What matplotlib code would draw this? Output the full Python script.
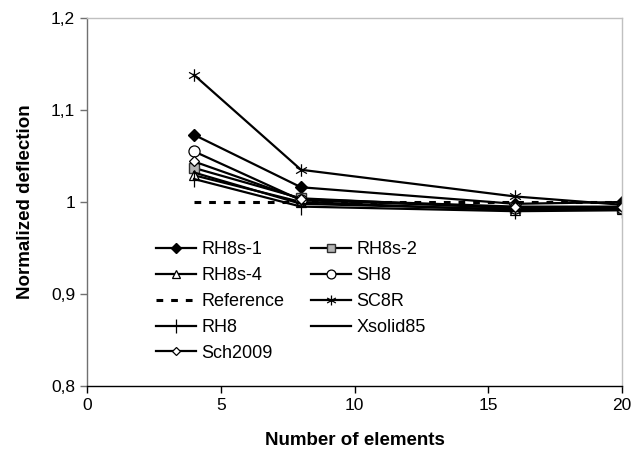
import matplotlib
matplotlib.use('Agg')
import matplotlib.pyplot as plt
from matplotlib.path import Path

plt.rcParams['font.family'] = ['Liberation Sans', 'DejaVu Sans']

# data
elements = [4, 8, 16, 20]
rh8s_1 = [1.073, 1.016, 0.998, 1.000]
rh8s_2 = [1.037, 1.004, 0.993, 0.993]
rh8s_4 = [1.029, 1.000, 0.991, 0.992]
sh8 = [1.055, 1.002, 0.994, 0.994]
reference = [1.0, 1.0, 1.0, 1.0]
sc8r = [1.138, 1.035, 1.006, 0.997]
rh8 = [1.025, 0.995, 0.990, 0.991]
xsolid85 = [1.032, 0.998, 0.992, 0.992]
sch2009 = [1.044, 1.003, 0.995, 0.995]

y_ticks = [0.8, 0.9, 1.0, 1.1, 1.2]
y_tick_labels = ['0,8', '0,9', '1', '1,1', '1,2']
x_ticks = [0, 5, 10, 15, 20]


def main():
    fig = plt.figure(figsize=(6.44, 4.57), dpi=100)
    ax = fig.add_axes([0.135, 0.155, 0.831, 0.806])

    # excel style asterisk marker
    star = Path([(0, -1), (0, 1), (-0.87, -0.5), (0.87, 0.5), (-0.87, 0.5), (0.87, -0.5)],
                [Path.MOVETO, Path.LINETO, Path.MOVETO, Path.LINETO, Path.MOVETO, Path.LINETO])

    lw = 1.6
    h = {}
    h['RH8s-1'], = ax.plot(elements, rh8s_1, color='black', lw=lw, marker='D', ms=6,
                           mfc='black', mec='black', label='RH8s-1')
    h['RH8s-2'], = ax.plot(elements, rh8s_2, color='black', lw=lw, marker='s', ms=7,
                           mfc='#b4b4b4', mec='#303030', label='RH8s-2')
    h['RH8s-4'], = ax.plot(elements, rh8s_4, color='black', lw=lw, marker='^', ms=7,
                           mfc='white', mec='black', mew=0.9, label='RH8s-4')
    h['SH8'], = ax.plot(elements, sh8, color='black', lw=lw, marker='o', ms=8,
                        mfc='white', mec='black', mew=0.9, label='SH8')
    h['Reference'], = ax.plot(elements, reference, color='black', lw=2.2,
                              ls=(0, (2.2, 2.6)), label='Reference')
    h['SC8R'], = ax.plot(elements, sc8r, color='black', lw=lw, marker=star, ms=9,
                         mfc='none', mec='black', mew=0.9, label='SC8R')
    h['RH8'], = ax.plot(elements, rh8, color='black', lw=lw, marker='|', ms=12,
                        mec='black', mew=0.9, label='RH8')
    h['Xsolid85'], = ax.plot(elements, xsolid85, color='black', lw=lw, label='Xsolid85')
    h['Sch2009'], = ax.plot(elements, sch2009, color='black', lw=lw, marker='D', ms=5,
                            mfc='white', mec='black', mew=0.9, label='Sch2009')

    ax.set_xlim(0, 20)
    ax.set_ylim(0.8, 1.2)
    ax.set_xticks(x_ticks)
    ax.set_yticks(y_ticks)
    ax.set_yticklabels(y_tick_labels)
    ax.tick_params(axis='both', labelsize=12.5, direction='out', length=5,
                   width=1)
    ax.tick_params(axis='y', color='#707070')
    ax.tick_params(axis='x', color='black')

    ax.spines['left'].set_color('#707070')
    ax.spines['bottom'].set_color('black')
    ax.spines['top'].set_color('#c0c0c0')
    ax.spines['right'].set_color('#c0c0c0')
    for s in ax.spines.values():
        s.set_linewidth(1)

    ax.set_xlabel('Number of elements', fontsize=13.5, fontweight='bold',
                  labelpad=14)
    ax.set_ylabel('Normalized deflection', fontsize=13.5, fontweight='bold',
                  labelpad=12)

    # row-wise legend order as in the original (matplotlib fills by column)
    order = ['RH8s-1', 'RH8s-4', 'Reference', 'RH8', 'Sch2009',
             'RH8s-2', 'SH8', 'SC8R', 'Xsolid85']
    ax.legend([h[k] for k in order], order, loc='upper left',
              bbox_to_anchor=(0.129, 0.393), ncol=2, frameon=False,
              fontsize=13, borderpad=0, borderaxespad=0, markerscale=0.8,
              handlelength=2.2, handletextpad=0.3, columnspacing=1.5,
              labelspacing=0.49)

    fig.savefig('out.png', dpi=100)


if __name__ == '__main__':
    main()
